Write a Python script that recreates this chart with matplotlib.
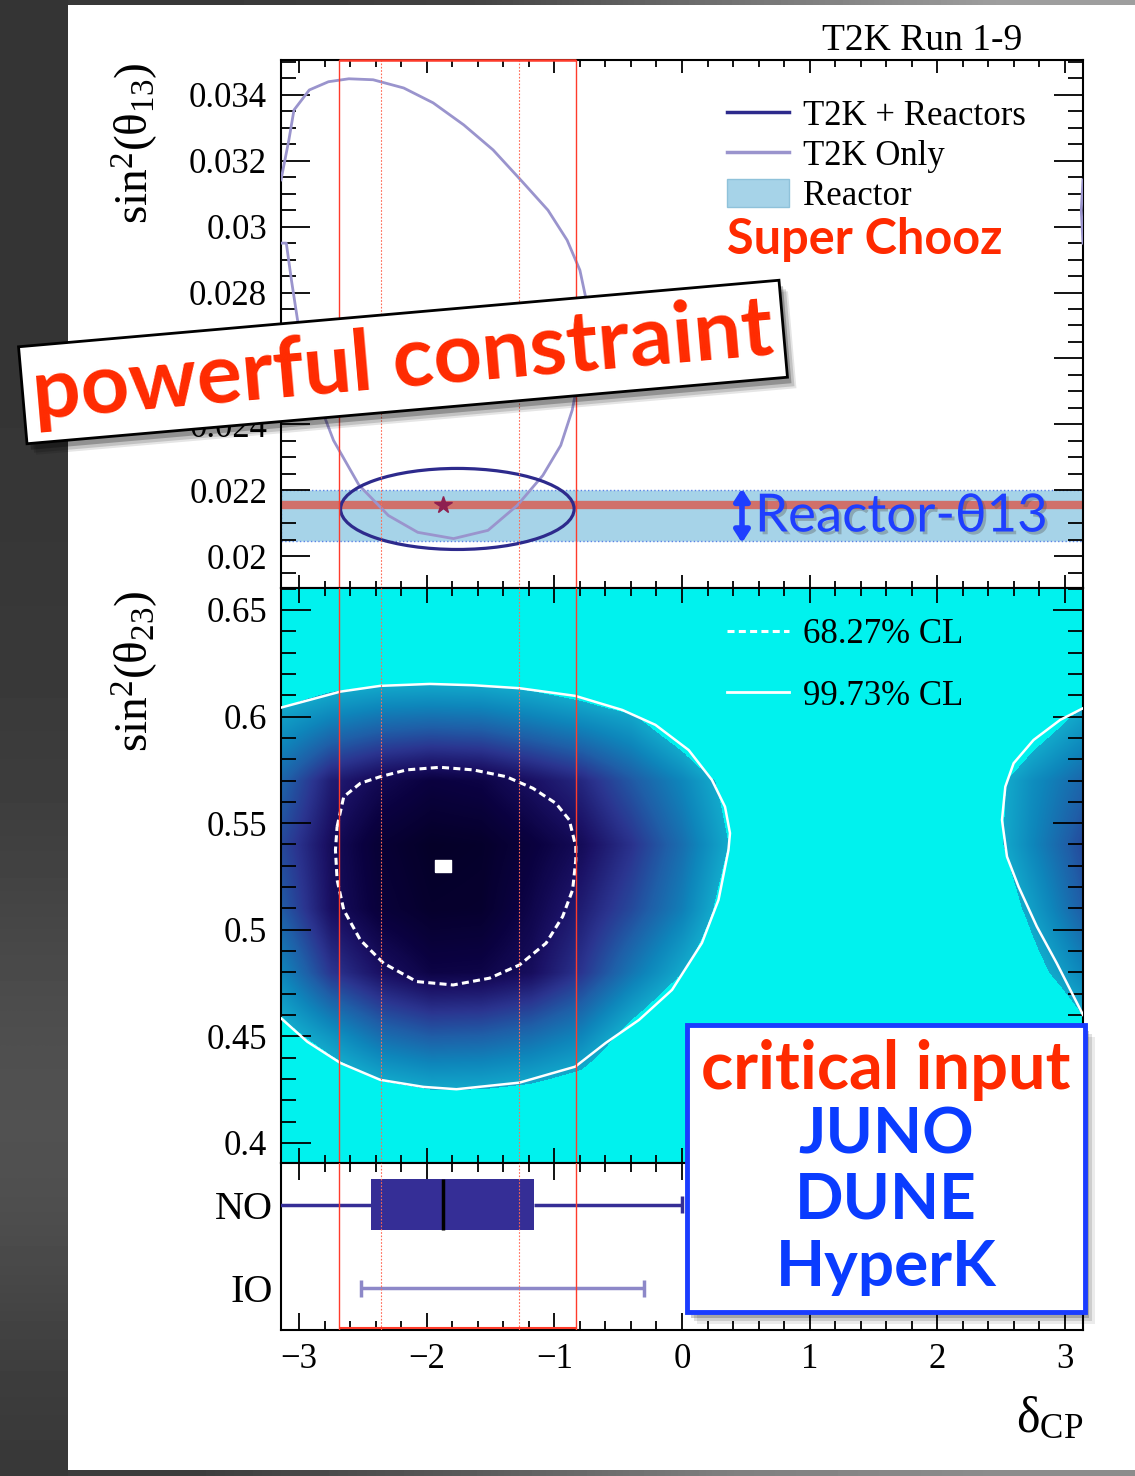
import numpy as np
import matplotlib
matplotlib.use("Agg")
import matplotlib.pyplot as plt
import matplotlib.patheffects as pe
from matplotlib.colors import LinearSegmentedColormap, Normalize
from matplotlib.patches import Ellipse, Rectangle, Patch
from matplotlib.lines import Line2D
from matplotlib.ticker import MultipleLocator, FuncFormatter

plt.rcParams["font.family"] = ["Liberation Serif", "DejaVu Serif"]
plt.rcParams["mathtext.fontset"] = "custom"
plt.rcParams["mathtext.rm"] = "Liberation Serif"
plt.rcParams["mathtext.it"] = "Liberation Serif:italic"

# ---------------- data ----------------
# T2K only contour in (dCP, sin^2 theta13); it leaves the frame at -pi and re-enters at +pi
t2k_only_dcp = [-3.1416, -3.08, -3.04, -2.92, -2.77, -2.61, -2.42, -2.18, -1.95, -1.71,
                -1.48, -1.25, -1.05, -0.90, -0.80, -0.75, -0.76, -0.80, -0.86, -0.95,
                -1.09, -1.29, -1.52, -1.79, -2.07, -2.30, -2.53, -2.73, -2.88, -3.00,
                -3.06, -3.10, -3.1416]
t2k_only_s13 = [0.03142, 0.03263, 0.03354, 0.03415, 0.03440, 0.03449, 0.03446, 0.03421,
                0.03376, 0.03309, 0.03233, 0.03136, 0.03050, 0.02959, 0.02868, 0.02777,
                0.02686, 0.02564, 0.02443, 0.02336, 0.02245, 0.02154, 0.02078, 0.02053,
                0.02072, 0.02123, 0.02215, 0.02351, 0.02503, 0.02686, 0.02838, 0.02950,
                0.02950]
t2k_only_wrap_dcp = [3.1416, 3.128, 3.1416]
t2k_only_wrap_s13 = [0.03142, 0.03050, 0.02950]

# T2K + reactors contour (ellipse: centre, full widths)
t2k_reac_centre = (-1.76, 0.02143)
t2k_reac_width = 1.83
t2k_reac_height = 0.00246

# best fit
bf_dcp = -1.87
bf_s13 = 0.02154
bf_s23 = 0.530

# reactor band and central value
reactor_lo = 0.02045
reactor_hi = 0.02200
reactor_central = 0.02154

# highlighted dCP intervals
dcp_outer = [-2.69, -0.834]
dcp_inner = [-2.36, -1.275]

# delta chi2 map in (dCP, sin^2 theta23)
dcp_nodes = [-3.14, -2.75, -2.36, -1.96, -1.57, -1.18, -0.79, -0.39, 0.0, 0.39, 0.79,
             1.18, 1.57, 1.96, 2.36, 2.75, 3.14]
s23_nodes = [0.39, 0.42, 0.45, 0.48, 0.51, 0.54, 0.57, 0.60, 0.63, 0.66]
chi2_map = [
    [20, 20, 20, 20, 20, 20, 20, 20, 20, 20, 20, 20, 20, 20, 20, 20, 20],
    [17, 15, 13.5, 12.8, 12.8, 13.2, 14, 16, 18, 20, 20, 20, 20, 20, 20, 20, 17],
    [13, 10.5, 8, 7, 7.2, 8, 9.5, 13, 16, 19, 20, 20, 20, 20, 20, 17, 13],
    [9.5, 5, 2.8, 1.6, 1.7, 2.6, 5, 8.5, 11.8, 15, 19, 20, 20, 20, 18, 13, 9.5],
    [7, 2.7, 1.0, 0.3, 0.4, 1.8, 3.6, 6, 9, 13.5, 18, 20, 20, 20, 15, 11, 7],
    [6, 2.45, 0.7, 0.05, 0.2, 1.2, 2.4, 4.8, 8, 12.1, 17, 20, 20, 20, 13.5, 9.5, 6],
    [7.5, 3.6, 2.1, 1.3, 1.6, 2.8, 4.2, 6.8, 9.5, 13, 18, 20, 20, 20, 13.5, 10, 7.5],
    [11.2, 9.5, 8.5, 8.2, 8.4, 9.3, 10.3, 11.5, 14.5, 19, 20, 20, 20, 20, 18, 14, 11.2],
    [16, 15.5, 15.3, 15.3, 15.3, 15.6, 16.5, 19, 20, 20, 20, 20, 20, 20, 20, 19, 16],
    [20, 20, 20, 20, 20, 20, 20, 20, 20, 20, 20, 20, 20, 20, 20, 20, 20],
]
chi2_99 = 11.83

# 99.73% CL contour
cl99_dcp = [-3.1416, -2.676, -2.364, -1.974, -1.637, -1.273, -0.836, -0.468, -0.208, 0.052,
            0.234, 0.337, 0.376, 0.364, 0.286, 0.156, -0.078, -0.337, -0.598, -0.836,
            -1.273, -1.767, -2.026, -2.364, -2.676, -2.936, -3.1416]
cl99_s23 = [0.6042, 0.6117, 0.6144, 0.6153, 0.6147, 0.6133, 0.6097, 0.6031, 0.5961, 0.5843,
            0.5703, 0.5577, 0.5453, 0.5374, 0.5140, 0.4938, 0.4718, 0.4577, 0.4469, 0.4358,
            0.4283, 0.4252, 0.4263, 0.4296, 0.4375, 0.4475, 0.4585]
cl99_wrap_dcp = [3.1416, 2.962, 2.754, 2.598, 2.533, 2.507, 2.546, 2.637, 2.780, 2.936, 3.1416]
cl99_wrap_s23 = [0.6039, 0.5984, 0.5890, 0.5781, 0.5671, 0.5515, 0.5343, 0.5202, 0.5015,
                 0.4843, 0.4601]

# 68.27% CL contour
cl68_dcp = [-2.702, -2.650, -2.520, -2.364, -2.157, -1.896, -1.637, -1.377, -1.169, -0.988,
            -0.883, -0.832, -0.832, -0.857, -0.935, -1.065, -1.273, -1.507, -1.793, -2.079,
            -2.338, -2.520, -2.650, -2.702, -2.715, -2.702]
cl68_s23 = [0.5484, 0.5624, 0.5687, 0.5718, 0.5750, 0.5762, 0.5750, 0.5718, 0.5664, 0.5593,
            0.5515, 0.5390, 0.5327, 0.5187, 0.5062, 0.4937, 0.4835, 0.4773, 0.4741, 0.4757,
            0.4843, 0.4952, 0.5093, 0.5234, 0.5374, 0.5484]

# 1D intervals (NO box, IO range)
no_q1, no_med, no_q3 = -2.44, -1.87, -1.16
no_lo, no_hi = -3.4, 0.0
io_lo, io_hi = -2.515, -0.30

# ---------------- figure ----------------
W, H = 1135, 1476
fig = plt.figure(figsize=(W / 100, H / 100), dpi=100, facecolor="#383838")


def fx(px):
    return px / W


def fy(py):
    return 1 - py / H


# slide background
bg = fig.add_axes([0, 0, 1, 1], zorder=-10)
bg.axis("off")
bg.imshow([[0.21], [0.21], [0.21], [0.22], [0.24], [0.31], [0.33], [0.22]],
          extent=[0, 68, H, 0], cmap="gray", vmin=0, vmax=1, interpolation="bicubic",
          aspect="auto")
bg.imshow([[0.22, 0.26, 0.45, 0.62]], extent=[68, W, 5, 0], cmap="gray", vmin=0, vmax=1,
          interpolation="bilinear", aspect="auto")
bg.imshow([[0.24, 0.35, 0.5, 0.55]], extent=[68, W, H, 1470], cmap="gray", vmin=0, vmax=1,
          interpolation="bilinear", aspect="auto")
bg.add_patch(Rectangle((68, 5), W - 68, 1465, fc="white", ec="none"))
bg.set_xlim(0, W)
bg.set_ylim(H, 0)

ax1 = fig.add_axes([fx(281), fy(588), 802 / W, 528 / H])
ax2 = fig.add_axes([fx(281), fy(1163), 802 / W, 575 / H])
ax3 = fig.add_axes([fx(281), fy(1330), 802 / W, 167 / H])

c_only = "#9a94cd"
c_reac = "#2d2a8c"
c_band = "#a6d3e8"
c_red = "#ff3b2b"
tick_fmt = FuncFormatter(lambda v, _: f"{v:g}")

for ax in (ax1, ax2, ax3):
    ax.set_xlim(-np.pi, np.pi)
    ax.xaxis.set_major_locator(MultipleLocator(1))
    ax.xaxis.set_minor_locator(MultipleLocator(0.2))
    ax.tick_params(which="both", direction="in", top=True, right=True, width=1.3,
                   labelsize=25)
    for sp in ax.spines.values():
        sp.set_linewidth(1.5)

# ---- top panel ----
ax1.set_ylim(0.01903, 0.03506)
ax1.yaxis.set_major_locator(MultipleLocator(0.002))
ax1.yaxis.set_minor_locator(MultipleLocator(0.0005))
ax1.yaxis.set_major_formatter(tick_fmt)
ax1.tick_params(axis="x", which="both", labelbottom=False)
ax1.tick_params(axis="x", which="major", length=9.5)
ax1.tick_params(axis="x", which="minor", length=5)
ax1.tick_params(axis="y", which="major", length=21, pad=10)
ax1.tick_params(axis="y", which="minor", length=11)

ax1.axhspan(reactor_lo, reactor_hi, fc=c_band, ec="#5a84e6", ls=":", lw=1, zorder=1)
ax1.axhline(reactor_central, color="#d0706a", lw=6, zorder=2)
ax1.plot(t2k_only_dcp, t2k_only_s13, color=c_only, lw=2.0, zorder=3)
ax1.plot(t2k_only_wrap_dcp, t2k_only_wrap_s13, color=c_only, lw=2.0, zorder=3)
ax1.add_patch(Ellipse(t2k_reac_centre, t2k_reac_width, t2k_reac_height, fc="none",
                      ec=c_reac, lw=2.3, zorder=4))
ax1.plot(bf_dcp, bf_s13, marker="*", ms=13, color="#8e2050", ls="none", zorder=5)

ax1.legend(
    [Line2D([], [], color=c_reac, lw=2.5), Line2D([], [], color=c_only, lw=2.5),
     Patch(fc=c_band, ec="#8fc2da")],
    ["T2K + Reactors", "T2K Only", "Reactor"],
    loc="upper left", bbox_to_anchor=(0.556, 0.926), frameon=False, fontsize=25,
    handlelength=1.8, handletextpad=0.4, labelspacing=0.18, borderpad=0,
    borderaxespad=0, handleheight=0.85)

# ---- middle panel ----
cmap = LinearSegmentedColormap.from_list(
    "t2k", [(0.0, "#050028"), (0.12, "#0b0242"), (0.25, "#1b1266"), (0.42, "#2b3590"),
            (0.6, "#1f5fa8"), (0.8, "#0e86bb"), (1.0, "#12a9cb")])
cmap.set_over("#00f2ee")
dx = dcp_nodes[1] - dcp_nodes[0]
dy = s23_nodes[1] - s23_nodes[0]
ax2.imshow(chi2_map, origin="lower", cmap=cmap, norm=Normalize(0, chi2_99),
           extent=[dcp_nodes[0] - dx / 2, dcp_nodes[-1] + dx / 2,
                   s23_nodes[0] - dy / 2, s23_nodes[-1] + dy / 2],
           interpolation="bilinear", interpolation_stage="data", aspect="auto", zorder=0)
ax2.plot(cl99_dcp, cl99_s23, color="white", lw=1.8, zorder=3)
ax2.plot(cl99_wrap_dcp, cl99_wrap_s23, color="white", lw=1.8, zorder=3)
ax2.plot(cl68_dcp, cl68_s23, color="white", lw=2.2, ls=(0, (2.3, 1.4)), zorder=3)
ax2.plot(bf_dcp, bf_s23, ls="none", color="white", ms=12, zorder=5,
         marker=[(-1.5, -1), (1.5, -1), (1.5, 1), (-1.5, 1), (-1.5, -1)])
ax2.set_xlim(-np.pi, np.pi)
ax2.set_ylim(0.3906, 0.6603)
ax2.yaxis.set_major_locator(MultipleLocator(0.05))
ax2.yaxis.set_minor_locator(MultipleLocator(0.01))
ax2.yaxis.set_major_formatter(tick_fmt)
ax2.tick_params(axis="x", which="both", labelbottom=False)
ax2.tick_params(axis="x", which="major", length=11)
ax2.tick_params(axis="x", which="minor", length=5.5)
ax2.tick_params(axis="y", which="major", length=21.5, pad=10)
ax2.tick_params(axis="y", which="minor", length=11)

ax2.legend([Line2D([], [], color="white", lw=2.2, ls=(0, (2.3, 1.4))),
            Line2D([], [], color="white", lw=2.0)],
           ["68.27% CL", "99.73% CL"], loc="upper left", bbox_to_anchor=(0.556, 0.947),
           frameon=False, fontsize=25, handlelength=1.8, handletextpad=0.4,
           labelspacing=0.81, borderpad=0, borderaxespad=0)

# ---- bottom panel ----
ax3.set_ylim(0, 1)
ax3.set_yticks([0.75, 0.25])
ax3.set_yticklabels(["NO", "IO"], fontsize=29)
ax3.tick_params(axis="y", which="both", length=0, pad=6)
ax3.tick_params(axis="x", which="major", length=12, pad=9)
ax3.tick_params(axis="x", which="minor", length=6.5)
ax3.barh(0.75, no_q3 - no_q1, left=no_q1, height=0.305, color="#352e96", zorder=3)
ax3.vlines(no_med, 0.75 - 0.1525, 0.75 + 0.1525, color="black", lw=2.5, zorder=4)
ax3.hlines(0.75, no_lo, no_q1, color="#352e96", lw=2.5, zorder=3)
ax3.hlines(0.75, no_q3, no_hi, color="#352e96", lw=2.5, zorder=3)
ax3.vlines(no_hi, 0.70, 0.80, color="#352e96", lw=2.5, zorder=3)
ax3.hlines(0.25, io_lo, io_hi, color="#8d88c8", lw=2.5, zorder=3)
ax3.vlines([io_lo, io_hi], 0.20, 0.30, color="#8d88c8", lw=2.5, zorder=3)
ax3.set_xlim(-np.pi, np.pi)

# highlighted interval lines through all panels
for ax in (ax1, ax2, ax3):
    for d in dcp_outer:
        ax.axvline(d, color=c_red, lw=1.0, zorder=8)
    for d in dcp_inner:
        ax.axvline(d, color="#ff6a55", lw=0.8, ls=(0, (1.5, 1.5)), zorder=8)
ax1.hlines(ax1.get_ylim()[1], dcp_outer[0], dcp_outer[1], color=c_red, lw=1.8, zorder=10,
           clip_on=False)
ax3.hlines(0.012, dcp_outer[0], dcp_outer[1], color=c_red, lw=1.5, zorder=10)

# ---- axis titles ----
fig.text(fx(1022), fy(50), "T2K Run 1-9", ha="right", va="baseline", fontsize=27)
fig.text(fx(135), fy(62), "sin$^{\\mathrm{2}}$(θ$_{\\mathrm{13}}$)", rotation=90,
         ha="center", va="top", fontsize=34)
fig.text(fx(135), fy(590), "sin$^{\\mathrm{2}}$(θ$_{\\mathrm{23}}$)", rotation=90,
         ha="center", va="top", fontsize=34)
fig.text(fx(1083), fy(1432), "δ$_{\\mathrm{CP}}$", ha="right", va="baseline", fontsize=36)

# ---- slide overlays ----
sans = ["Lato", "DejaVu Sans"]
fig.text(fx(727), fy(240), "Super Chooz", color="#ff2a00", fontsize=35, fontweight="bold",
         family=sans, ha="left", va="center")

ax1.annotate("", xy=(0.47, reactor_hi + 0.00005), xytext=(0.47, reactor_lo - 0.00005),
             arrowprops=dict(arrowstyle="<|-|>,head_length=0.7,head_width=0.45",
                             color="#1f3fff", lw=4, shrinkA=0, shrinkB=0), zorder=9)
rt = fig.text(fx(755), fy(517), "Reactor-θ13", color="#1f3fff", fontsize=38,
              fontweight="normal", family=sans, ha="left", va="center", zorder=9)
rt.set_path_effects([pe.SimplePatchShadow(offset=(2, -2), shadow_rgbFace="#555555",
                                          alpha=0.35), pe.Normal()])

pc_kw = dict(rotation=5, rotation_mode="anchor", ha="center", va="center", fontsize=61,
             fontweight="bold", family=sans)
for ox, oy, a in [(9, -11, 0.10), (7, -9, 0.15), (4, -6, 0.25)]:
    fig.text(fx(403) + ox / W, fy(362) + oy / H, "powerful constraint", color="none",
             bbox=dict(boxstyle="square,pad=0.12", fc="black", ec="none", alpha=a),
             zorder=20, **pc_kw)
fig.text(fx(403), fy(362), "powerful constraint", color="#ff2a00",
         bbox=dict(boxstyle="square,pad=0.12", fc="white", ec="black", lw=2),
         zorder=21, **pc_kw)

bx0, bx1, by0, by1 = 687, 1085, 1025, 1312
for ox, oy, a in [(10, -12, 0.08), (7, -9, 0.12), (4, -6, 0.2)]:
    fig.add_artist(Rectangle((fx(bx0) + ox / W, fy(by1) + oy / H), (bx1 - bx0) / W,
                             (by1 - by0) / H, transform=fig.transFigure, fc="black",
                             ec="none", alpha=a, zorder=20))
fig.add_artist(Rectangle((fx(bx0), fy(by1)), (bx1 - bx0) / W, (by1 - by0) / H,
                         transform=fig.transFigure, fc="white", ec="#1a3cff", lw=3.5,
                         zorder=21))
fig.text(fx(886), fy(1070), "critical input", color="#ff2a00", fontsize=48,
         fontweight="bold", family=sans, ha="center", va="center", zorder=22)
for label, ypx in [("JUNO", 1135), ("DUNE", 1200), ("HyperK", 1268)]:
    fig.text(fx(886), fy(ypx), label, color="#0a3cff", fontsize=46, fontweight="bold",
             family=sans, ha="center", va="center", zorder=22)

fig.savefig("out.png", dpi=100, facecolor=fig.get_facecolor())
